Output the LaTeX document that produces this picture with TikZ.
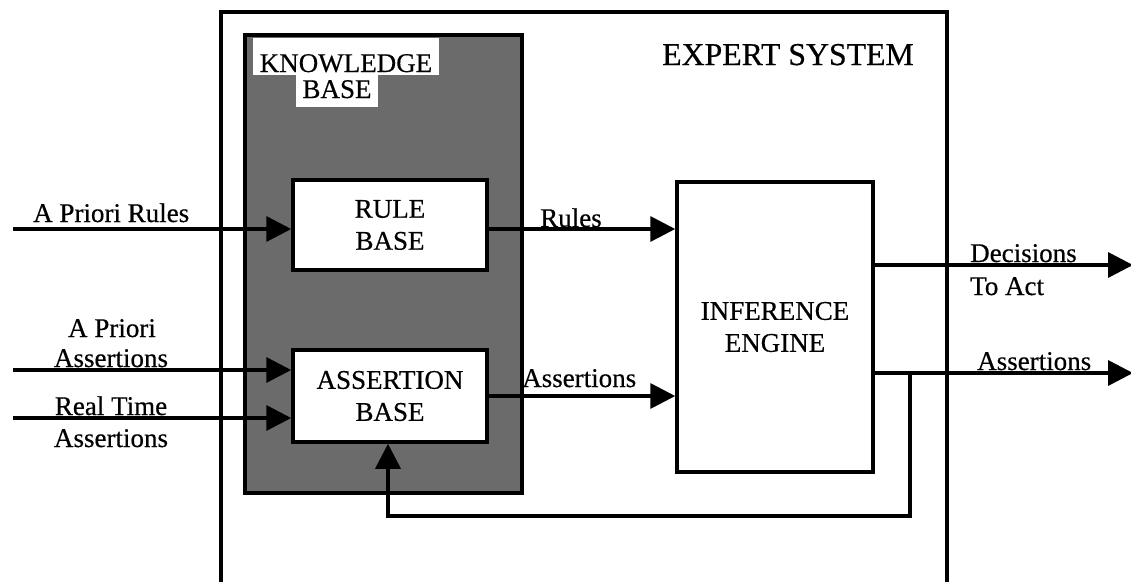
\documentclass[tikz,border=0pt]{standalone}
\usepackage{fontspec}
\setmainfont{Liberation Serif}[FakeBold=0.5]
\usetikzlibrary{arrows.meta}
\begin{document}
\begin{tikzpicture}[x=1pt,y=-1pt]
\tikzset{
  lbl/.style={font=\fontsize{27}{32}\selectfont, inner sep=0pt},
  blk/.style={draw, line width=3.5pt, fill=white, align=center, inner sep=0pt,
              font=\fontsize{27}{32}\selectfont},
  wire/.style={line width=3.5pt},
  arr/.style={line width=3.5pt, -{Triangle[length=25pt,width=25pt]}},
  kbshade/.style={draw, line width=3.5pt, fill=black!58, inner sep=0pt},
  tag/.style={lbl, fill=white, inner ysep=0pt}
}
\useasboundingbox (0,0) rectangle (1131,581);

% enclosing frame of the expert system, open at the bottom
\draw[wire] (221,595) -- (221,12) -- (947,12) -- (947,595);
\node[lbl, font=\fontsize{31.8}{36}\selectfont, anchor=base west] (title) at (662,65) {EXPERT SYSTEM};

% shaded knowledge base with its white caption
\node[kbshade, minimum width=277pt, minimum height=458pt] (kb) at (383.5,264) {};
\node[tag, anchor=base, inner xsep=7pt, text height=34pt, text depth=3pt] (kbt1) at (346,72) {KNOWLEDGE};
\node[tag, anchor=base, inner xsep=6pt, text height=23pt, text depth=9pt] (kbt2) at (337,98) {BASE};

% blocks
\node[blk, minimum width=194pt, minimum height=90pt] (rule) at (390,225) {RULE\\BASE};
\node[blk, minimum width=194pt, minimum height=92pt] (asrt) at (390,396) {ASSERTION\\BASE};
\node[blk, minimum width=196pt, minimum height=290pt] (ie) at (775,327) {INFERENCE\\ENGINE};

% external inputs
\coordinate (src1) at (13,229);
\coordinate (src2) at (13,370);
\coordinate (src3) at (13,418);
\draw[arr] (src1) -- (src1 -| rule.west);
\draw[arr] (src2) -- (src2 -| asrt.west);
\draw[arr] (src3) -- (src3 -| asrt.west);

% knowledge base to inference engine
\draw[arr] (rule.east |- src1) -- (ie.west |- src1);
\draw[arr] (asrt.east) -- (asrt.east -| ie.west);

% outputs
\coordinate (dec) at (1133,265);
\coordinate (out) at (1133,373);
\draw[arr] (ie.east |- dec) -- (dec);
\draw[arr] (ie.east |- out) -- (out);

% feedback of derived assertions
\coordinate (fb) at (910,373);
\coordinate (fbc) at (388,516);
\draw[arr] (fb) |- (fbc) -- (fbc |- asrt.south);

% connector labels
\node[lbl, anchor=base west] (l1) at (33,222) {A Priori Rules};
\node[lbl, anchor=base] (l2a) at (112,337) {A Priori};
\node[lbl, anchor=base] (l2b) at (111,367) {Assertions};
\node[lbl, anchor=base] (l3a) at (111,415) {Real Time};
\node[lbl, anchor=base] (l3b) at (111,447) {Assertions};
\node[lbl, anchor=base west] (l4) at (540,227) {Rules};
\node[lbl, anchor=base west] (l5) at (522,387) {Assertions};
\node[lbl, anchor=base west] (l6a) at (970,262) {Decisions};
\node[lbl, anchor=base west] (l6b) at (970,295) {To Act};
\node[lbl, anchor=base west] (l7) at (977,370) {Assertions};
\end{tikzpicture}
\end{document}
